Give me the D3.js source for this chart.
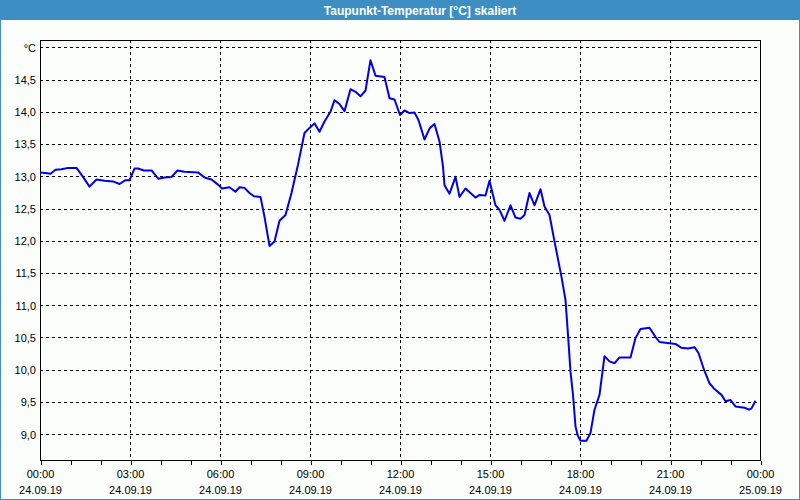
<!DOCTYPE html>
<html><head><meta charset="utf-8">
<script src="https://cdn.jsdelivr.net/npm/d3@7"></script>
<style>
html,body{margin:0;padding:0;background:#fbfdfb;}
svg{display:block;}
text{font-family:"Liberation Sans",Arial,sans-serif;}
</style></head>
<body>
<script>
// ---- data (minutes after 24.09.19 00:00, dew point °C) ----
const minutes = [0,11,21,31,43,56,73,86,99,113,129,146,159,171,179,189,196,208,223,237,249,263,275,289,316,329,343,356,364,
379,391,399,409,419,428,441,449,459,469,479,491,503,516,529,539,549,559,569,581,589,599,609,621,631,641,651,661,671,689,699,709,720,
729,739,749,757,769,779,789,799,806,809,819,831,839,851,861,871,879,891,899,911,919,929,941,951,961,969,979,989,1001,1009,1019,1029,1043,1051,1056,1061,1066,1071,1076,1081,
1093,1101,1109,1119,1129,1139,1149,1159,1181,1191,1201,1219,1231,1239,1259,1271,1283,1296,1309,1317,1328,1339,1349,1363,1371,1381,1391,1409,1418,1423,1431];
const values = [13.06,13.05,13.04,13.10,13.11,13.13,13.13,12.99,12.84,12.95,12.93,12.92,12.88,12.94,12.94,13.12,13.12,13.09,13.09,12.96,12.98,12.99,13.09,13.07,13.06,12.98,12.95,12.87,12.81,
12.83,12.76,12.83,12.82,12.74,12.69,12.68,12.37,11.92,11.99,12.31,12.40,12.74,13.18,13.67,13.75,13.82,13.69,13.85,14.00,14.18,14.12,14.01,14.35,14.31,14.24,14.33,14.80,14.56,14.54,14.21,14.19,13.95,
14.02,13.98,13.99,13.87,13.57,13.74,13.81,13.54,13.15,12.86,12.73,12.99,12.68,12.81,12.74,12.67,12.71,12.70,12.93,12.55,12.48,12.31,12.55,12.36,12.34,12.40,12.74,12.55,12.80,12.53,12.40,11.99,11.44,11.08,10.54,9.97,9.61,9.12,8.97,8.90,
8.90,9.02,9.38,9.61,10.21,10.13,10.10,10.19,10.19,10.49,10.63,10.65,10.51,10.43,10.41,10.40,10.34,10.33,10.35,10.26,10.00,9.79,9.70,9.61,9.51,9.53,9.43,9.41,9.38,9.40,9.52];

const title = "Taupunkt-Temperatur [°C] skaliert";
const xTickMinutes = [0,180,360,540,720,900,1080,1260,1440];
const xTimeLabels = ["00:00","03:00","06:00","09:00","12:00","15:00","18:00","21:00","00:00"];
const xDateLabels = ["24.09.19","24.09.19","24.09.19","24.09.19","24.09.19","24.09.19","24.09.19","24.09.19","25.09.19"];
const xMinorMinutes = d3.range(0,1441,60);
const yTickValues = [9,9.5,10,10.5,11,11.5,12,12.5,13,13.5,14,14.5,15];
const yTickLabels = ["9,0","9,5","10,0","10,5","11,0","11,5","12,0","12,5","13,0","13,5","14,0","14,5","°C"];

// ---- layout ----
const W = 800, H = 500;
const L = 40, R = 760, T = 40, B = 460;
const svg = d3.select("body").append("svg").attr("width", W).attr("height", H);

svg.append("rect").attr("x",0).attr("y",0).attr("width",W).attr("height",H).attr("fill","#fbfdfb");
// window frame
svg.append("rect").attr("x",0.5).attr("y",0.5).attr("width",W-1).attr("height",H-1)
  .attr("fill","none").attr("stroke","#3d8fc3").attr("stroke-width",1);
svg.append("rect").attr("x",0).attr("y",0).attr("width",W).attr("height",20).attr("fill","#3d8fc3");
svg.append("text").attr("x",420).attr("y",14.5).attr("text-anchor","middle")
  .attr("fill","#ffffff").attr("font-weight","bold").attr("font-size","12px").text(title);

const x = d3.scaleLinear().domain([0,1440]).range([L,R]);
const y = d3.scaleLinear().domain([8.6,15.113]).range([B,T]);

// grid
const grid = svg.append("g").attr("stroke","#000").attr("stroke-width",1).attr("stroke-dasharray","3,3").attr("shape-rendering","crispEdges");
grid.selectAll("line.h").data(yTickValues).join("line").attr("class","h")
  .attr("x1",L).attr("x2",R).attr("y1",d=>Math.round(y(d))+0.5).attr("y2",d=>Math.round(y(d))+0.5);
grid.selectAll("line.v").data(xTickMinutes.slice(1,-1)).join("line").attr("class","v")
  .attr("y1",T).attr("y2",B).attr("x1",d=>Math.round(x(d))+0.5).attr("x2",d=>Math.round(x(d))+0.5);

// x axis minor ticks
const xMinorAxis = d3.axisBottom(x).tickValues(xMinorMinutes).tickSize(4).tickFormat("");
const gxm = svg.append("g").attr("transform",`translate(0.5,${B+0.5})`).call(xMinorAxis);
gxm.select(".domain").remove();
gxm.selectAll("line").attr("stroke","#000").attr("shape-rendering","crispEdges");

// x axis major labels
const xAxis = d3.axisBottom(x).tickValues(xTickMinutes).tickSize(0).tickPadding(0)
  .tickFormat((d,i)=>xTimeLabels[i]);
const gx = svg.append("g").attr("transform",`translate(0,${B})`).call(xAxis);
gx.select(".domain").remove();
gx.selectAll(".tick text").each(function(d,i){
  const t = d3.select(this);
  t.text(null).attr("y",0).attr("dy",null).attr("fill","#000").attr("font-size","11px")
   .attr("font-family","Liberation Sans, Arial, sans-serif");
  t.append("tspan").attr("x",0).attr("y",18).text(xTimeLabels[i]);
  t.append("tspan").attr("x",0).attr("y",34).text(xDateLabels[i]);
});

// y axis labels
const yAxis = d3.axisLeft(y).tickValues(yTickValues).tickSize(0).tickPadding(4)
  .tickFormat((d,i)=>yTickLabels[i]);
const gy = svg.append("g").attr("transform",`translate(${L},0)`).call(yAxis);
gy.select(".domain").remove();
gy.selectAll(".tick text").attr("fill","#000").attr("font-size","11px")
  .attr("font-family","Liberation Sans, Arial, sans-serif").attr("dy","0.35em");

// plot frame
svg.append("rect").attr("x",L+0.5).attr("y",T+0.5).attr("width",R-L).attr("height",B-T)
  .attr("fill","none").attr("stroke","#000").attr("stroke-width",1).attr("shape-rendering","crispEdges");

// line
const line = d3.line().x((d,i)=>x(minutes[i])).y(d=>y(d));
svg.append("path").datum(values).attr("d",line).attr("fill","none")
  .attr("stroke","#0000e6").attr("stroke-width",2).attr("stroke-linejoin","round");
</script>
</body></html>
